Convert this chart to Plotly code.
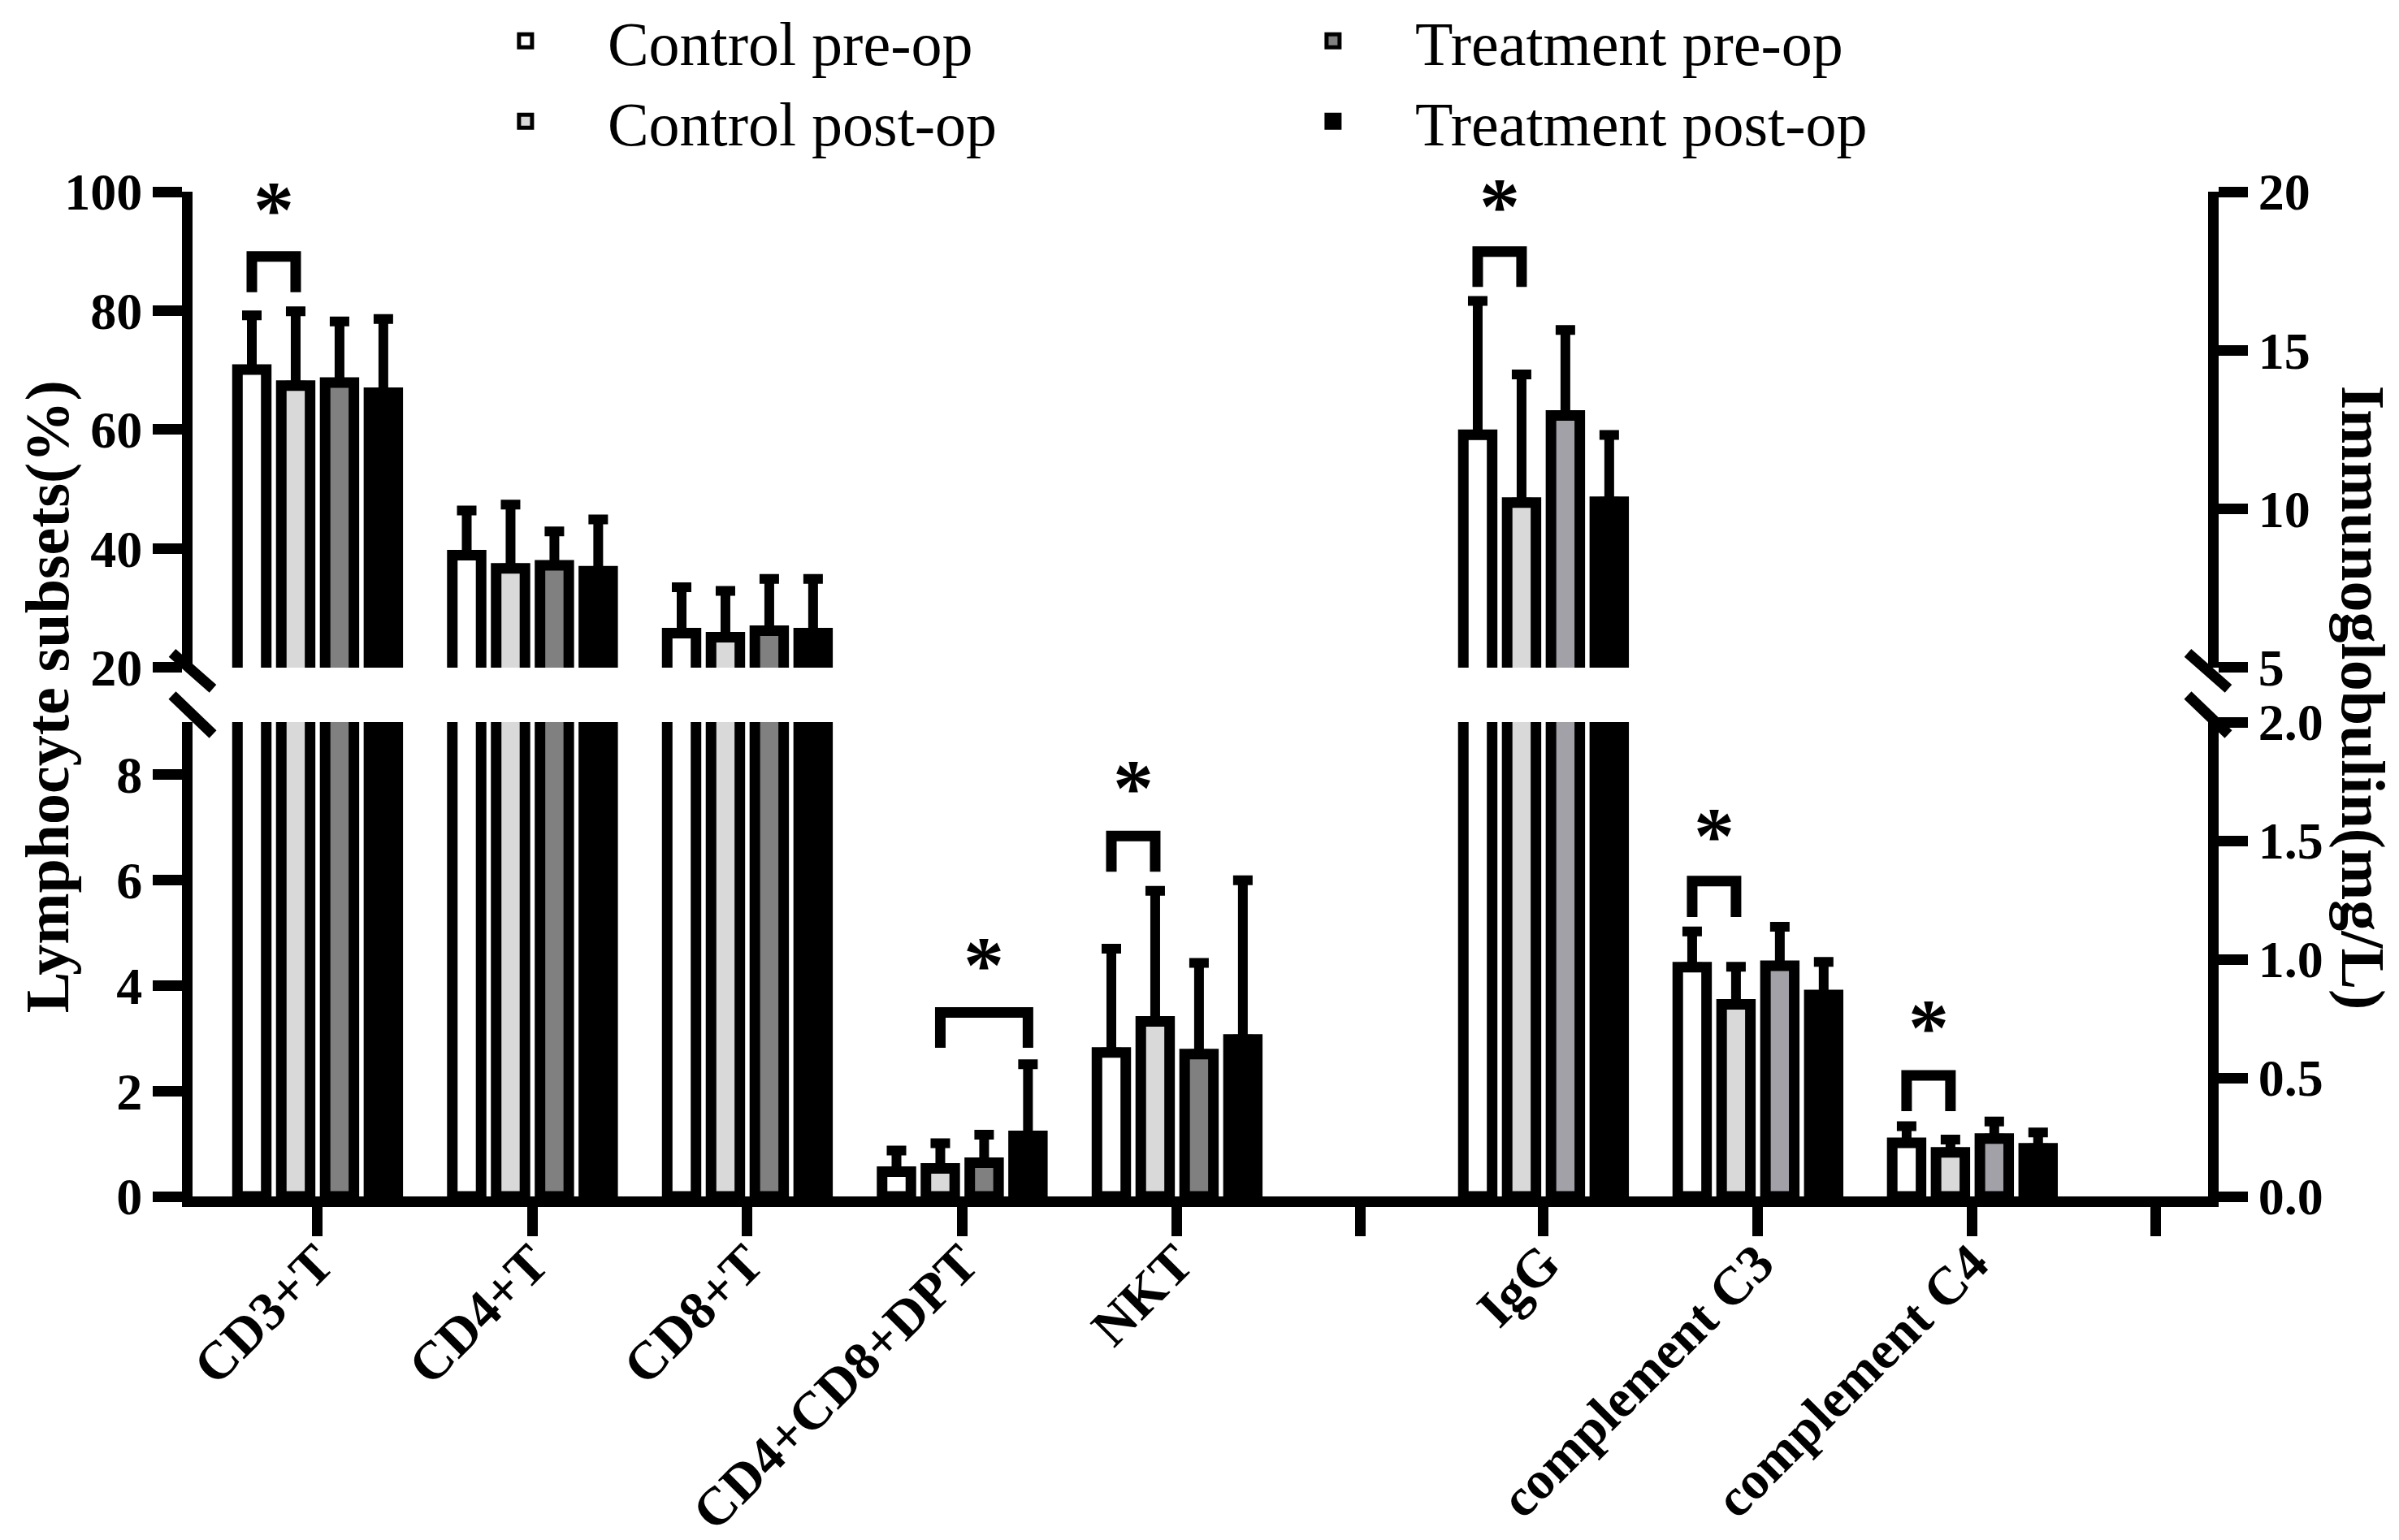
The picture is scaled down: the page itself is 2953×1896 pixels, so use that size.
import plotly.graph_objects as go

# ---- data ----
lymph_labels = ['CD3+T', 'CD4+T', 'CD8+T', 'CD4+CD8+DPT', 'NKT']
immuno_labels = ['IgG', 'complement C3', 'complement C4']
series_names = ['Control pre-op', 'Control post-op', 'Treatment pre-op', 'Treatment post-op']

# lymphocyte subsets (%), left axis
ctrl_pre_lymph = [70.1, 38.9, 25.8, 0.47, 2.73]
ctrl_post_lymph = [67.4, 36.7, 25.1, 0.53, 3.32]
treat_pre_lymph = [67.9, 37.2, 26.2, 0.64, 2.70]
treat_post_lymph = [66.2, 36.2, 25.8, 1.15, 2.98]
ctrl_pre_lymph_sd = [9.1, 7.5, 7.7, 0.40, 1.97]
ctrl_post_lymph_sd = [12.5, 10.7, 7.8, 0.48, 2.48]
treat_pre_lymph_sd = [10.3, 5.7, 8.7, 0.53, 1.73]
treat_post_lymph_sd = [12.4, 8.7, 9.1, 1.36, 3.02]

# immunoglobulin / complement (mg/L), right axis
ctrl_pre_imm = [12.34, 0.967, 0.226]
ctrl_post_imm = [10.20, 0.810, 0.186]
treat_pre_imm = [12.95, 0.973, 0.244]
treat_post_imm = [10.23, 0.849, 0.203]
ctrl_pre_imm_sd = [4.22, 0.150, 0.070]
ctrl_post_imm_sd = [4.04, 0.158, 0.054]
treat_pre_imm_sd = [2.69, 0.164, 0.072]
treat_post_imm_sd = [2.10, 0.140, 0.067]

# significance brackets: (group label, bar a, bar b, bracket top, leg end, star level)
sig_lymph = [('CD3+T', 0, 1, 89.1, 83.1, 97.7),
             ('CD4+CD8+DPT', 1, 3, 3.49, 2.82, 4.47),
             ('NKT', 0, 1, 6.84, 6.16, 7.83)]
sig_imm = [('IgG', 0, 1, 18.11, 17.0, 19.69),
           ('complement C3', 0, 1, 1.33, 1.178, 1.54),
           ('complement C4', 0, 1, 0.51, 0.36, 0.73)]

# ---- layout constants ----
lymph_x = [0, 1, 2, 3, 4]
imm_x = [5.705, 6.703, 7.701]
spacer_x = [4.854, 8.556]
PITCH = 0.204
BAR_W = 0.134
FONT = 'Liberation Serif'

lymph_fill = ['#ffffff', '#d9d9d9', '#808080', '#000000']
imm_fill = ['#ffffff', '#d9d9d9', '#a1a1a7', '#000000']

lymph_means = [ctrl_pre_lymph, ctrl_post_lymph, treat_pre_lymph, treat_post_lymph]
lymph_sds = [ctrl_pre_lymph_sd, ctrl_post_lymph_sd, treat_pre_lymph_sd, treat_post_lymph_sd]
imm_means = [ctrl_pre_imm, ctrl_post_imm, treat_pre_imm, treat_post_imm]
imm_sds = [ctrl_pre_imm_sd, ctrl_post_imm_sd, treat_pre_imm_sd, treat_post_imm_sd]


def bar_center(i):
    return (i - 1.5) * PITCH


fig = go.Figure()

# every bar is drawn in both halves of the broken axis, each half clips it
for xs, means, sds, fills, axes in [(lymph_x, lymph_means, lymph_sds, lymph_fill, ['y', 'y2']),
                                    (imm_x, imm_means, imm_sds, imm_fill, ['y3', 'y4'])]:
    for ya in axes:
        for i in range(4):
            fig.add_trace(go.Bar(
                x=xs, y=means[i], width=BAR_W, offset=bar_center(i) - BAR_W / 2,
                marker=dict(color=fills[i], line=dict(color='black', width=13)),
                error_y=dict(type='data', symmetric=False, array=sds[i],
                             arrayminus=[0] * len(xs), color='black', thickness=12, width=12),
                xaxis='x', yaxis=ya, showlegend=False, hoverinfo='skip'))

# brackets and stars
annots = []
for sig, labels, xs, axes in [(sig_lymph, lymph_labels, lymph_x, ['y', 'y2']),
                              (sig_imm, immuno_labels, imm_x, ['y3', 'y4'])]:
    for lab, a, b, top, leg, star in sig:
        gx = xs[labels.index(lab)]
        xa, xb = gx + bar_center(a), gx + bar_center(b)
        ya = axes[1] if top > (20 if axes[0] == 'y' else 5) else axes[0]
        fig.add_trace(go.Scatter(x=[xa, xa, xb, xb], y=[leg, top, top, leg], mode='lines',
                                 line=dict(color='black', width=13), xaxis='x', yaxis=ya,
                                 showlegend=False, hoverinfo='skip'))
        annots.append(dict(x=(xa + xb) / 2, y=star, xref='x', yref=ya, text='*', showarrow=False,
                           yshift=-5, font=dict(family=FONT, size=100, color='black', weight='bold')))

# legend entries: first row pre-op, second row post-op
for i in [0, 2, 1, 3]:
    fig.add_trace(go.Scatter(x=[None], y=[None], mode='markers', name=series_names[i],
                             legend='legend' if i in (0, 2) else 'legend2',
                             marker=dict(symbol='square', size=16, color=lymph_fill[i],
                                         line=dict(color='black', width=5))))

axis_style = dict(showline=True, linewidth=13, linecolor='black', ticks='outside', ticklen=36,
                  tickwidth=13, tickcolor='black', showgrid=False, zeroline=False,
                  tickfont=dict(family=FONT, size=64, color='black', weight='bold'))

legend_style = dict(orientation='h', x=0.1245, xanchor='left', yanchor='middle',
                    font=dict(family=FONT, size=76, color='black'), entrywidth=787,
                    entrywidthmode='pixels', itemwidth=192, bgcolor='rgba(0,0,0,0)')

fig.update_layout(
    width=2953, height=1896,
    paper_bgcolor='white', plot_bgcolor='white',
    barmode='overlay',
    margin=dict(l=229, r=243, t=228, b=431, autoexpand=False),
    font=dict(family=FONT, color='black'),
    legend=dict(y=1.150, **legend_style),
    legend2=dict(y=1.070, **legend_style),
    xaxis=dict(range=[-0.582, 8.798], tickvals=lymph_x + spacer_x[:1] + imm_x + spacer_x[1:],
               ticktext=lymph_labels + [''] + immuno_labels + [''], tickangle=-45,
               ticklabelstandoff=-32, anchor='y',
               **{**axis_style, 'tickfont': dict(family=FONT, size=66, color='black', weight='bold')}),
    yaxis=dict(domain=[0, 0.4721], range=[0, 9], tickvals=[0, 2, 4, 6, 8], anchor='x', **axis_style),
    yaxis2=dict(domain=[0.5263, 1], range=[20, 100], tickvals=[20, 40, 60, 80, 100], anchor='x', **axis_style),
    yaxis3=dict(overlaying='y', side='right', range=[0, 2], tickvals=[0, 0.5, 1, 1.5, 2],
                tickformat='.1f', anchor='x', **axis_style),
    yaxis4=dict(overlaying='y2', side='right', range=[5, 20], tickvals=[5, 10, 15, 20], anchor='x', **axis_style),
    annotations=annots + [
        dict(text='Lymphocyte subsets(%)', x=-0.0721, y=0.497, xref='paper', yref='paper',
             textangle=-90, showarrow=False, xanchor='center', yanchor='middle',
             font=dict(family=FONT, size=76, color='black', weight='bold')),
        dict(text='Immunoglobulin(mg/L)', x=1.0766, y=0.4965, xref='paper', yref='paper',
             textangle=90, showarrow=False, xanchor='center', yanchor='middle',
             font=dict(family=FONT, size=76, color='black', weight='bold')),
    ],
)

# axis break marks
breaks = []
for xd in [0, 1]:
    breaks.append(dict(type='line', xref='x domain', yref='y2 domain', xsizemode='pixel', xanchor=xd,
                       ysizemode='pixel', yanchor=0, x0=-25, x1=25, y0=18, y1=-26,
                       line=dict(color='black', width=13)))
    breaks.append(dict(type='line', xref='x domain', yref='y domain', xsizemode='pixel', xanchor=xd,
                       ysizemode='pixel', yanchor=1, x0=-25, x1=25, y0=33, y1=-15,
                       line=dict(color='black', width=13)))
fig.update_layout(shapes=breaks)

fig.write_html('out.html')
